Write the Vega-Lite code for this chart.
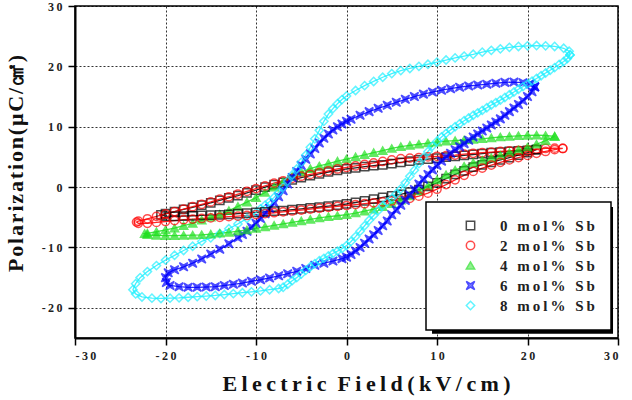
{
  "$schema": "https://vega.github.io/schema/vega-lite/v6.json",
  "width": 543,
  "height": 332,
  "autosize": {"type": "none"},
  "padding": {"left": 75, "top": 6, "right": 14, "bottom": 62},
  "background": "white",
  "config": {
    "view": {"stroke": "#000", "strokeWidth": 1.5},
    "axis": {
      "labelFont": "Liberation Serif", "labelFontWeight": "bold", "labelFontSize": 12, "labelColor": "#222",
      "titleFont": "Liberation Serif", "titleFontWeight": "bold", "titleFontSize": 22, "titleColor": "#111",
      "domainColor": "#000", "domainWidth": 2, "tickColor": "#000", "tickWidth": 1.5, "tickSize": 7,
      "grid": true, "gridColor": "#000", "gridDash": [2, 2], "gridWidth": 1, "gridOpacity": 0.8
    },
    "legend": {
      "orient": "none", "legendX": 351, "legendY": 196,
      "fillColor": "white", "strokeColor": "#000", "strokeWidth": 1.5,
      "padding": 16, "symbolOffset": 21, "labelOffset": 22, "rowPadding": 4,
      "labelFont": "Liberation Serif", "labelFontWeight": "bold", "labelFontSize": 15, "labelColor": "#222",
      "symbolSize": 70, "symbolStrokeWidth": 1.5
    }
  },
  "data": {"values": [
    {"s":"0 mol% Sb","E":21,"P":6.2},{"s":"0 mol% Sb","E":20,"P":6.1},{"s":"0 mol% Sb","E":19,"P":6.0},{"s":"0 mol% Sb","E":18,"P":5.9},{"s":"0 mol% Sb","E":17,"P":5.8},{"s":"0 mol% Sb","E":16,"P":5.7},{"s":"0 mol% Sb","E":15,"P":5.55},{"s":"0 mol% Sb","E":14,"P":5.4},{"s":"0 mol% Sb","E":13,"P":5.25},{"s":"0 mol% Sb","E":12,"P":5.1},{"s":"0 mol% Sb","E":11,"P":4.95},{"s":"0 mol% Sb","E":10,"P":4.8},{"s":"0 mol% Sb","E":9,"P":4.65},{"s":"0 mol% Sb","E":8,"P":4.5},{"s":"0 mol% Sb","E":7,"P":4.3},{"s":"0 mol% Sb","E":6,"P":4.1},{"s":"0 mol% Sb","E":5,"P":3.9},{"s":"0 mol% Sb","E":4,"P":3.7},{"s":"0 mol% Sb","E":3,"P":3.55},{"s":"0 mol% Sb","E":2,"P":3.4},{"s":"0 mol% Sb","E":1,"P":3.2},{"s":"0 mol% Sb","E":0,"P":3.0},{"s":"0 mol% Sb","E":-1,"P":2.75},{"s":"0 mol% Sb","E":-2,"P":2.5},{"s":"0 mol% Sb","E":-3,"P":2.2},{"s":"0 mol% Sb","E":-4,"P":1.9},{"s":"0 mol% Sb","E":-5,"P":1.55},{"s":"0 mol% Sb","E":-6,"P":1.2},{"s":"0 mol% Sb","E":-7,"P":0.8},{"s":"0 mol% Sb","E":-8,"P":0.4},{"s":"0 mol% Sb","E":-9,"P":0.0},{"s":"0 mol% Sb","E":-10,"P":-0.5},{"s":"0 mol% Sb","E":-11,"P":-0.95},{"s":"0 mol% Sb","E":-12,"P":-1.4},{"s":"0 mol% Sb","E":-13,"P":-1.8},{"s":"0 mol% Sb","E":-14,"P":-2.2},{"s":"0 mol% Sb","E":-15,"P":-2.6},{"s":"0 mol% Sb","E":-16,"P":-3.0},{"s":"0 mol% Sb","E":-17,"P":-3.35},{"s":"0 mol% Sb","E":-18,"P":-3.7},{"s":"0 mol% Sb","E":-19,"P":-4.05},{"s":"0 mol% Sb","E":-20,"P":-4.4},{"s":"0 mol% Sb","E":-20.5,"P":-4.6},
    {"s":"0 mol% Sb","E":-20,"P":-4.8},{"s":"0 mol% Sb","E":-19,"P":-4.85},{"s":"0 mol% Sb","E":-18,"P":-4.8},{"s":"0 mol% Sb","E":-17,"P":-4.75},{"s":"0 mol% Sb","E":-16,"P":-4.7},{"s":"0 mol% Sb","E":-15,"P":-4.65},{"s":"0 mol% Sb","E":-14,"P":-4.6},{"s":"0 mol% Sb","E":-13,"P":-4.5},{"s":"0 mol% Sb","E":-12,"P":-4.4},{"s":"0 mol% Sb","E":-11,"P":-4.3},{"s":"0 mol% Sb","E":-10,"P":-4.2},{"s":"0 mol% Sb","E":-9,"P":-4.1},{"s":"0 mol% Sb","E":-8,"P":-4.0},{"s":"0 mol% Sb","E":-7,"P":-3.9},{"s":"0 mol% Sb","E":-6,"P":-3.75},{"s":"0 mol% Sb","E":-5,"P":-3.6},{"s":"0 mol% Sb","E":-4,"P":-3.45},{"s":"0 mol% Sb","E":-3,"P":-3.3},{"s":"0 mol% Sb","E":-2,"P":-3.15},{"s":"0 mol% Sb","E":-1,"P":-3.0},{"s":"0 mol% Sb","E":0,"P":-2.8},{"s":"0 mol% Sb","E":1,"P":-2.55},{"s":"0 mol% Sb","E":2,"P":-2.3},{"s":"0 mol% Sb","E":3,"P":-2.0},{"s":"0 mol% Sb","E":4,"P":-1.7},{"s":"0 mol% Sb","E":5,"P":-1.45},{"s":"0 mol% Sb","E":6,"P":-1.2},{"s":"0 mol% Sb","E":7,"P":-0.85},{"s":"0 mol% Sb","E":8,"P":-0.4},{"s":"0 mol% Sb","E":9,"P":0.1},{"s":"0 mol% Sb","E":10,"P":0.7},{"s":"0 mol% Sb","E":11,"P":1.4},{"s":"0 mol% Sb","E":12,"P":2.1},{"s":"0 mol% Sb","E":13,"P":2.7},{"s":"0 mol% Sb","E":14,"P":3.3},{"s":"0 mol% Sb","E":15,"P":3.7},{"s":"0 mol% Sb","E":16,"P":4.1},{"s":"0 mol% Sb","E":17,"P":4.5},{"s":"0 mol% Sb","E":18,"P":4.9},{"s":"0 mol% Sb","E":19,"P":5.3},{"s":"0 mol% Sb","E":20,"P":5.7},{"s":"0 mol% Sb","E":21,"P":6.2},

    {"s":"2 mol% Sb","E":23.9,"P":6.4},{"s":"2 mol% Sb","E":23,"P":6.45},{"s":"2 mol% Sb","E":22,"P":6.4},{"s":"2 mol% Sb","E":21,"P":6.3},{"s":"2 mol% Sb","E":20,"P":6.2},{"s":"2 mol% Sb","E":19,"P":6.1},{"s":"2 mol% Sb","E":18,"P":6.0},{"s":"2 mol% Sb","E":17,"P":5.9},{"s":"2 mol% Sb","E":16,"P":5.8},{"s":"2 mol% Sb","E":15,"P":5.7},{"s":"2 mol% Sb","E":14,"P":5.6},{"s":"2 mol% Sb","E":13,"P":5.45},{"s":"2 mol% Sb","E":12,"P":5.3},{"s":"2 mol% Sb","E":11,"P":5.2},{"s":"2 mol% Sb","E":10,"P":5.1},{"s":"2 mol% Sb","E":9,"P":5.0},{"s":"2 mol% Sb","E":8,"P":4.9},{"s":"2 mol% Sb","E":7,"P":4.8},{"s":"2 mol% Sb","E":6,"P":4.7},{"s":"2 mol% Sb","E":5,"P":4.5},{"s":"2 mol% Sb","E":4,"P":4.25},{"s":"2 mol% Sb","E":3,"P":4.0},{"s":"2 mol% Sb","E":2,"P":3.75},{"s":"2 mol% Sb","E":1,"P":3.5},{"s":"2 mol% Sb","E":0,"P":3.25},{"s":"2 mol% Sb","E":-1,"P":3.0},{"s":"2 mol% Sb","E":-2,"P":2.7},{"s":"2 mol% Sb","E":-3,"P":2.4},{"s":"2 mol% Sb","E":-4,"P":2.1},{"s":"2 mol% Sb","E":-5,"P":1.8},{"s":"2 mol% Sb","E":-6,"P":1.45},{"s":"2 mol% Sb","E":-7,"P":1.05},{"s":"2 mol% Sb","E":-8,"P":0.65},{"s":"2 mol% Sb","E":-9,"P":0.2},{"s":"2 mol% Sb","E":-10,"P":-0.25},{"s":"2 mol% Sb","E":-11,"P":-0.7},{"s":"2 mol% Sb","E":-12,"P":-1.15},{"s":"2 mol% Sb","E":-13,"P":-1.6},{"s":"2 mol% Sb","E":-14,"P":-2.0},{"s":"2 mol% Sb","E":-15,"P":-2.45},{"s":"2 mol% Sb","E":-16,"P":-2.85},{"s":"2 mol% Sb","E":-17,"P":-3.25},{"s":"2 mol% Sb","E":-18,"P":-3.65},{"s":"2 mol% Sb","E":-19,"P":-4.05},{"s":"2 mol% Sb","E":-20,"P":-4.45},{"s":"2 mol% Sb","E":-21,"P":-4.85},{"s":"2 mol% Sb","E":-22,"P":-5.25},{"s":"2 mol% Sb","E":-23,"P":-5.65},{"s":"2 mol% Sb","E":-23.2,"P":-5.8},
    {"s":"2 mol% Sb","E":-23,"P":-6.0},{"s":"2 mol% Sb","E":-22,"P":-6.0},{"s":"2 mol% Sb","E":-21,"P":-5.85},{"s":"2 mol% Sb","E":-20,"P":-5.7},{"s":"2 mol% Sb","E":-19,"P":-5.55},{"s":"2 mol% Sb","E":-18,"P":-5.4},{"s":"2 mol% Sb","E":-17,"P":-5.3},{"s":"2 mol% Sb","E":-16,"P":-5.2},{"s":"2 mol% Sb","E":-15,"P":-5.1},{"s":"2 mol% Sb","E":-14,"P":-5.0},{"s":"2 mol% Sb","E":-13,"P":-4.9},{"s":"2 mol% Sb","E":-12,"P":-4.8},{"s":"2 mol% Sb","E":-11,"P":-4.7},{"s":"2 mol% Sb","E":-10,"P":-4.55},{"s":"2 mol% Sb","E":-9,"P":-4.4},{"s":"2 mol% Sb","E":-8,"P":-4.25},{"s":"2 mol% Sb","E":-7,"P":-4.1},{"s":"2 mol% Sb","E":-6,"P":-3.95},{"s":"2 mol% Sb","E":-5,"P":-3.8},{"s":"2 mol% Sb","E":-4,"P":-3.65},{"s":"2 mol% Sb","E":-3,"P":-3.5},{"s":"2 mol% Sb","E":-2,"P":-3.35},{"s":"2 mol% Sb","E":-1,"P":-3.2},{"s":"2 mol% Sb","E":0,"P":-3.05},{"s":"2 mol% Sb","E":1,"P":-2.9},{"s":"2 mol% Sb","E":2,"P":-2.75},{"s":"2 mol% Sb","E":3,"P":-2.6},{"s":"2 mol% Sb","E":4,"P":-2.45},{"s":"2 mol% Sb","E":5,"P":-2.3},{"s":"2 mol% Sb","E":6,"P":-2.1},{"s":"2 mol% Sb","E":7,"P":-1.85},{"s":"2 mol% Sb","E":8,"P":-1.5},{"s":"2 mol% Sb","E":9,"P":-1.0},{"s":"2 mol% Sb","E":10,"P":-0.35},{"s":"2 mol% Sb","E":11,"P":0.4},{"s":"2 mol% Sb","E":12,"P":1.2},{"s":"2 mol% Sb","E":13,"P":1.95},{"s":"2 mol% Sb","E":14,"P":2.6},{"s":"2 mol% Sb","E":15,"P":3.15},{"s":"2 mol% Sb","E":16,"P":3.65},{"s":"2 mol% Sb","E":17,"P":4.1},{"s":"2 mol% Sb","E":18,"P":4.5},{"s":"2 mol% Sb","E":19,"P":4.9},{"s":"2 mol% Sb","E":20,"P":5.25},{"s":"2 mol% Sb","E":21,"P":5.6},{"s":"2 mol% Sb","E":22,"P":5.9},{"s":"2 mol% Sb","E":23,"P":6.2},{"s":"2 mol% Sb","E":23.9,"P":6.4},

    {"s":"4 mol% Sb","E":23,"P":8.4},{"s":"4 mol% Sb","E":22,"P":8.55},{"s":"4 mol% Sb","E":21,"P":8.6},{"s":"4 mol% Sb","E":20,"P":8.55},{"s":"4 mol% Sb","E":19,"P":8.5},{"s":"4 mol% Sb","E":18,"P":8.4},{"s":"4 mol% Sb","E":17,"P":8.3},{"s":"4 mol% Sb","E":16,"P":8.15},{"s":"4 mol% Sb","E":15,"P":8.0},{"s":"4 mol% Sb","E":14,"P":7.9},{"s":"4 mol% Sb","E":13,"P":7.8},{"s":"4 mol% Sb","E":12,"P":7.7},{"s":"4 mol% Sb","E":11,"P":7.6},{"s":"4 mol% Sb","E":10,"P":7.45},{"s":"4 mol% Sb","E":9,"P":7.3},{"s":"4 mol% Sb","E":8,"P":7.1},{"s":"4 mol% Sb","E":7,"P":6.9},{"s":"4 mol% Sb","E":6,"P":6.7},{"s":"4 mol% Sb","E":5,"P":6.4},{"s":"4 mol% Sb","E":4,"P":6.05},{"s":"4 mol% Sb","E":3,"P":5.7},{"s":"4 mol% Sb","E":2,"P":5.35},{"s":"4 mol% Sb","E":1,"P":5.0},{"s":"4 mol% Sb","E":0,"P":4.65},{"s":"4 mol% Sb","E":-1,"P":4.3},{"s":"4 mol% Sb","E":-2,"P":3.9},{"s":"4 mol% Sb","E":-3,"P":3.5},{"s":"4 mol% Sb","E":-4,"P":3.05},{"s":"4 mol% Sb","E":-5,"P":2.5},{"s":"4 mol% Sb","E":-6,"P":1.75},{"s":"4 mol% Sb","E":-7,"P":0.9},{"s":"4 mol% Sb","E":-8,"P":0.0},{"s":"4 mol% Sb","E":-9,"P":-0.9},{"s":"4 mol% Sb","E":-10,"P":-1.75},{"s":"4 mol% Sb","E":-11,"P":-2.5},{"s":"4 mol% Sb","E":-12,"P":-3.2},{"s":"4 mol% Sb","E":-13,"P":-3.9},{"s":"4 mol% Sb","E":-14,"P":-4.5},{"s":"4 mol% Sb","E":-15,"P":-5.0},{"s":"4 mol% Sb","E":-16,"P":-5.5},{"s":"4 mol% Sb","E":-17,"P":-6.0},{"s":"4 mol% Sb","E":-18,"P":-6.4},{"s":"4 mol% Sb","E":-19,"P":-6.8},{"s":"4 mol% Sb","E":-20,"P":-7.1},{"s":"4 mol% Sb","E":-21,"P":-7.4},{"s":"4 mol% Sb","E":-22,"P":-7.65},{"s":"4 mol% Sb","E":-22.3,"P":-7.7},
    {"s":"4 mol% Sb","E":-22,"P":-7.9},{"s":"4 mol% Sb","E":-21,"P":-8.0},{"s":"4 mol% Sb","E":-20,"P":-8.05},{"s":"4 mol% Sb","E":-19,"P":-8.05},{"s":"4 mol% Sb","E":-18,"P":-8.0},{"s":"4 mol% Sb","E":-17,"P":-7.95},{"s":"4 mol% Sb","E":-16,"P":-7.9},{"s":"4 mol% Sb","E":-15,"P":-7.8},{"s":"4 mol% Sb","E":-14,"P":-7.65},{"s":"4 mol% Sb","E":-13,"P":-7.5},{"s":"4 mol% Sb","E":-12,"P":-7.3},{"s":"4 mol% Sb","E":-11,"P":-7.1},{"s":"4 mol% Sb","E":-10,"P":-6.85},{"s":"4 mol% Sb","E":-9,"P":-6.6},{"s":"4 mol% Sb","E":-8,"P":-6.35},{"s":"4 mol% Sb","E":-7,"P":-6.1},{"s":"4 mol% Sb","E":-6,"P":-5.85},{"s":"4 mol% Sb","E":-5,"P":-5.6},{"s":"4 mol% Sb","E":-4,"P":-5.35},{"s":"4 mol% Sb","E":-3,"P":-5.1},{"s":"4 mol% Sb","E":-2,"P":-4.9},{"s":"4 mol% Sb","E":-1,"P":-4.75},{"s":"4 mol% Sb","E":0,"P":-4.55},{"s":"4 mol% Sb","E":1,"P":-4.3},{"s":"4 mol% Sb","E":2,"P":-4.0},{"s":"4 mol% Sb","E":3,"P":-3.65},{"s":"4 mol% Sb","E":4,"P":-3.25},{"s":"4 mol% Sb","E":5,"P":-2.75},{"s":"4 mol% Sb","E":6,"P":-2.15},{"s":"4 mol% Sb","E":7,"P":-1.45},{"s":"4 mol% Sb","E":8,"P":-0.65},{"s":"4 mol% Sb","E":9,"P":0.25},{"s":"4 mol% Sb","E":10,"P":1.2},{"s":"4 mol% Sb","E":11,"P":2.05},{"s":"4 mol% Sb","E":12,"P":2.8},{"s":"4 mol% Sb","E":13,"P":3.45},{"s":"4 mol% Sb","E":14,"P":4.0},{"s":"4 mol% Sb","E":15,"P":4.45},{"s":"4 mol% Sb","E":16,"P":4.85},{"s":"4 mol% Sb","E":17,"P":5.25},{"s":"4 mol% Sb","E":18,"P":5.7},{"s":"4 mol% Sb","E":19,"P":6.15},{"s":"4 mol% Sb","E":20,"P":6.6},{"s":"4 mol% Sb","E":21,"P":7.1},{"s":"4 mol% Sb","E":22,"P":7.7},{"s":"4 mol% Sb","E":23,"P":8.4},

    {"s":"6 mol% Sb","E":20.8,"P":16.6},{"s":"6 mol% Sb","E":20.3,"P":17.1},{"s":"6 mol% Sb","E":19.5,"P":17.3},{"s":"6 mol% Sb","E":18.5,"P":17.4},{"s":"6 mol% Sb","E":17.5,"P":17.35},{"s":"6 mol% Sb","E":16.5,"P":17.2},{"s":"6 mol% Sb","E":15.5,"P":17.05},{"s":"6 mol% Sb","E":14.5,"P":16.9},{"s":"6 mol% Sb","E":13.5,"P":16.75},{"s":"6 mol% Sb","E":12.5,"P":16.55},{"s":"6 mol% Sb","E":11.5,"P":16.3},{"s":"6 mol% Sb","E":10.5,"P":16.05},{"s":"6 mol% Sb","E":9.5,"P":15.75},{"s":"6 mol% Sb","E":8.5,"P":15.4},{"s":"6 mol% Sb","E":7.5,"P":15.0},{"s":"6 mol% Sb","E":6.5,"P":14.55},{"s":"6 mol% Sb","E":5.5,"P":14.05},{"s":"6 mol% Sb","E":4.5,"P":13.55},{"s":"6 mol% Sb","E":3.5,"P":13.05},{"s":"6 mol% Sb","E":2.5,"P":12.5},{"s":"6 mol% Sb","E":1.5,"P":11.9},{"s":"6 mol% Sb","E":0.5,"P":11.25},{"s":"6 mol% Sb","E":0,"P":10.9},{"s":"6 mol% Sb","E":-0.5,"P":10.45},{"s":"6 mol% Sb","E":-1,"P":10.0},{"s":"6 mol% Sb","E":-1.5,"P":9.45},{"s":"6 mol% Sb","E":-2,"P":8.8},{"s":"6 mol% Sb","E":-2.5,"P":8.1},{"s":"6 mol% Sb","E":-3,"P":7.3},{"s":"6 mol% Sb","E":-3.5,"P":6.4},{"s":"6 mol% Sb","E":-4,"P":5.5},{"s":"6 mol% Sb","E":-4.5,"P":4.6},{"s":"6 mol% Sb","E":-5,"P":3.6},{"s":"6 mol% Sb","E":-5.5,"P":2.6},{"s":"6 mol% Sb","E":-6,"P":1.6},{"s":"6 mol% Sb","E":-6.5,"P":0.5},{"s":"6 mol% Sb","E":-7,"P":-0.6},{"s":"6 mol% Sb","E":-7.5,"P":-1.6},{"s":"6 mol% Sb","E":-8,"P":-2.6},{"s":"6 mol% Sb","E":-8.5,"P":-3.5},{"s":"6 mol% Sb","E":-9,"P":-4.4},{"s":"6 mol% Sb","E":-9.5,"P":-5.2},{"s":"6 mol% Sb","E":-10,"P":-6.0},{"s":"6 mol% Sb","E":-10.5,"P":-6.65},{"s":"6 mol% Sb","E":-11,"P":-7.3},{"s":"6 mol% Sb","E":-11.5,"P":-7.85},{"s":"6 mol% Sb","E":-12,"P":-8.4},{"s":"6 mol% Sb","E":-13,"P":-9.4},{"s":"6 mol% Sb","E":-14,"P":-10.3},{"s":"6 mol% Sb","E":-15,"P":-11.1},{"s":"6 mol% Sb","E":-16,"P":-11.9},{"s":"6 mol% Sb","E":-17,"P":-12.6},{"s":"6 mol% Sb","E":-18,"P":-13.2},{"s":"6 mol% Sb","E":-19,"P":-13.7},{"s":"6 mol% Sb","E":-19.7,"P":-14.2},{"s":"6 mol% Sb","E":-20,"P":-15.0},{"s":"6 mol% Sb","E":-19.9,"P":-15.8},
    {"s":"6 mol% Sb","E":-19.5,"P":-16.3},{"s":"6 mol% Sb","E":-18.5,"P":-16.5},{"s":"6 mol% Sb","E":-17.5,"P":-16.6},{"s":"6 mol% Sb","E":-16.5,"P":-16.6},{"s":"6 mol% Sb","E":-15.5,"P":-16.55},{"s":"6 mol% Sb","E":-14.5,"P":-16.5},{"s":"6 mol% Sb","E":-13.5,"P":-16.3},{"s":"6 mol% Sb","E":-12.5,"P":-16.1},{"s":"6 mol% Sb","E":-11.5,"P":-15.9},{"s":"6 mol% Sb","E":-10.5,"P":-15.6},{"s":"6 mol% Sb","E":-9.5,"P":-15.35},{"s":"6 mol% Sb","E":-8.5,"P":-15.05},{"s":"6 mol% Sb","E":-7.5,"P":-14.7},{"s":"6 mol% Sb","E":-6.5,"P":-14.35},{"s":"6 mol% Sb","E":-5.5,"P":-13.95},{"s":"6 mol% Sb","E":-4.5,"P":-13.5},{"s":"6 mol% Sb","E":-3.5,"P":-12.95},{"s":"6 mol% Sb","E":-2.5,"P":-12.6},{"s":"6 mol% Sb","E":-1.5,"P":-12.25},{"s":"6 mol% Sb","E":-0.5,"P":-11.85},{"s":"6 mol% Sb","E":0,"P":-11.6},{"s":"6 mol% Sb","E":0.5,"P":-11.15},{"s":"6 mol% Sb","E":1,"P":-10.6},{"s":"6 mol% Sb","E":1.5,"P":-10.0},{"s":"6 mol% Sb","E":2,"P":-9.3},{"s":"6 mol% Sb","E":2.5,"P":-8.6},{"s":"6 mol% Sb","E":3,"P":-7.9},{"s":"6 mol% Sb","E":3.5,"P":-7.2},{"s":"6 mol% Sb","E":4,"P":-6.4},{"s":"6 mol% Sb","E":4.5,"P":-5.6},{"s":"6 mol% Sb","E":5,"P":-4.6},{"s":"6 mol% Sb","E":5.5,"P":-3.8},{"s":"6 mol% Sb","E":6,"P":-3.0},{"s":"6 mol% Sb","E":6.5,"P":-2.2},{"s":"6 mol% Sb","E":7,"P":-1.3},{"s":"6 mol% Sb","E":7.5,"P":-0.4},{"s":"6 mol% Sb","E":8,"P":0.5},{"s":"6 mol% Sb","E":8.5,"P":1.3},{"s":"6 mol% Sb","E":9,"P":2.1},{"s":"6 mol% Sb","E":9.5,"P":2.85},{"s":"6 mol% Sb","E":10,"P":3.6},{"s":"6 mol% Sb","E":10.5,"P":4.3},{"s":"6 mol% Sb","E":11,"P":5.0},{"s":"6 mol% Sb","E":11.5,"P":5.6},{"s":"6 mol% Sb","E":12,"P":6.2},{"s":"6 mol% Sb","E":12.5,"P":6.7},{"s":"6 mol% Sb","E":13,"P":7.2},{"s":"6 mol% Sb","E":13.5,"P":7.75},{"s":"6 mol% Sb","E":14,"P":8.3},{"s":"6 mol% Sb","E":14.5,"P":8.8},{"s":"6 mol% Sb","E":15,"P":9.3},{"s":"6 mol% Sb","E":15.5,"P":9.8},{"s":"6 mol% Sb","E":16,"P":10.3},{"s":"6 mol% Sb","E":16.5,"P":10.8},{"s":"6 mol% Sb","E":17,"P":11.3},{"s":"6 mol% Sb","E":17.5,"P":11.9},{"s":"6 mol% Sb","E":18,"P":12.5},{"s":"6 mol% Sb","E":18.5,"P":13.1},{"s":"6 mol% Sb","E":19,"P":13.7},{"s":"6 mol% Sb","E":19.5,"P":14.3},{"s":"6 mol% Sb","E":20,"P":15.0},{"s":"6 mol% Sb","E":20.5,"P":15.8},{"s":"6 mol% Sb","E":20.8,"P":16.6},

    {"s":"8 mol% Sb","E":24.7,"P":21.9},{"s":"8 mol% Sb","E":24.6,"P":22.5},{"s":"8 mol% Sb","E":24,"P":23.0},{"s":"8 mol% Sb","E":23,"P":23.3},{"s":"8 mol% Sb","E":22,"P":23.4},{"s":"8 mol% Sb","E":21,"P":23.45},{"s":"8 mol% Sb","E":20,"P":23.4},{"s":"8 mol% Sb","E":19,"P":23.3},{"s":"8 mol% Sb","E":18,"P":23.15},{"s":"8 mol% Sb","E":17,"P":22.9},{"s":"8 mol% Sb","E":16,"P":22.65},{"s":"8 mol% Sb","E":15,"P":22.35},{"s":"8 mol% Sb","E":14,"P":22.0},{"s":"8 mol% Sb","E":13,"P":21.7},{"s":"8 mol% Sb","E":12,"P":21.4},{"s":"8 mol% Sb","E":11,"P":21.05},{"s":"8 mol% Sb","E":10,"P":20.7},{"s":"8 mol% Sb","E":9,"P":20.35},{"s":"8 mol% Sb","E":8,"P":20.0},{"s":"8 mol% Sb","E":7,"P":19.65},{"s":"8 mol% Sb","E":6,"P":19.3},{"s":"8 mol% Sb","E":5,"P":18.8},{"s":"8 mol% Sb","E":4,"P":18.2},{"s":"8 mol% Sb","E":3,"P":17.5},{"s":"8 mol% Sb","E":2,"P":16.8},{"s":"8 mol% Sb","E":1,"P":16.0},{"s":"8 mol% Sb","E":0,"P":15.1},{"s":"8 mol% Sb","E":-0.5,"P":14.5},{"s":"8 mol% Sb","E":-1,"P":13.8},{"s":"8 mol% Sb","E":-1.5,"P":13.0},{"s":"8 mol% Sb","E":-2,"P":12.1},{"s":"8 mol% Sb","E":-2.5,"P":10.9},{"s":"8 mol% Sb","E":-3,"P":9.4},{"s":"8 mol% Sb","E":-3.5,"P":8.0},{"s":"8 mol% Sb","E":-4,"P":6.6},{"s":"8 mol% Sb","E":-4.5,"P":5.3},{"s":"8 mol% Sb","E":-5,"P":4.1},{"s":"8 mol% Sb","E":-5.5,"P":3.0},{"s":"8 mol% Sb","E":-6,"P":2.0},{"s":"8 mol% Sb","E":-6.5,"P":1.0},{"s":"8 mol% Sb","E":-7,"P":0.0},{"s":"8 mol% Sb","E":-7.5,"P":-0.9},{"s":"8 mol% Sb","E":-8,"P":-1.7},{"s":"8 mol% Sb","E":-8.5,"P":-2.4},{"s":"8 mol% Sb","E":-9,"P":-3.0},{"s":"8 mol% Sb","E":-9.5,"P":-3.6},{"s":"8 mol% Sb","E":-10,"P":-4.2},{"s":"8 mol% Sb","E":-11,"P":-5.2},{"s":"8 mol% Sb","E":-12,"P":-6.1},{"s":"8 mol% Sb","E":-13,"P":-6.9},{"s":"8 mol% Sb","E":-14,"P":-7.7},{"s":"8 mol% Sb","E":-15,"P":-8.4},{"s":"8 mol% Sb","E":-16,"P":-9.0},{"s":"8 mol% Sb","E":-17,"P":-9.8},{"s":"8 mol% Sb","E":-18,"P":-10.5},{"s":"8 mol% Sb","E":-19,"P":-11.3},{"s":"8 mol% Sb","E":-20,"P":-12.1},{"s":"8 mol% Sb","E":-21,"P":-13.0},{"s":"8 mol% Sb","E":-22,"P":-14.0},{"s":"8 mol% Sb","E":-22.8,"P":-15.0},{"s":"8 mol% Sb","E":-23.3,"P":-16.0},{"s":"8 mol% Sb","E":-23.6,"P":-17.0},
    {"s":"8 mol% Sb","E":-23.3,"P":-17.7},{"s":"8 mol% Sb","E":-22.6,"P":-18.2},{"s":"8 mol% Sb","E":-21.5,"P":-18.4},{"s":"8 mol% Sb","E":-20.5,"P":-18.45},{"s":"8 mol% Sb","E":-19.5,"P":-18.4},{"s":"8 mol% Sb","E":-18.5,"P":-18.35},{"s":"8 mol% Sb","E":-17.5,"P":-18.25},{"s":"8 mol% Sb","E":-16.5,"P":-18.15},{"s":"8 mol% Sb","E":-15.5,"P":-18.05},{"s":"8 mol% Sb","E":-14.5,"P":-17.95},{"s":"8 mol% Sb","E":-13.5,"P":-17.8},{"s":"8 mol% Sb","E":-12.5,"P":-17.65},{"s":"8 mol% Sb","E":-11.5,"P":-17.5},{"s":"8 mol% Sb","E":-10.5,"P":-17.35},{"s":"8 mol% Sb","E":-9.5,"P":-17.2},{"s":"8 mol% Sb","E":-8.5,"P":-17.0},{"s":"8 mol% Sb","E":-7.5,"P":-16.8},{"s":"8 mol% Sb","E":-7,"P":-16.6},{"s":"8 mol% Sb","E":-6.5,"P":-16.1},{"s":"8 mol% Sb","E":-6,"P":-15.5},{"s":"8 mol% Sb","E":-5.5,"P":-15.0},{"s":"8 mol% Sb","E":-5,"P":-14.4},{"s":"8 mol% Sb","E":-4.5,"P":-13.8},{"s":"8 mol% Sb","E":-4,"P":-13.2},{"s":"8 mol% Sb","E":-3.5,"P":-12.7},{"s":"8 mol% Sb","E":-3,"P":-12.2},{"s":"8 mol% Sb","E":-2.5,"P":-11.8},{"s":"8 mol% Sb","E":-2,"P":-11.4},{"s":"8 mol% Sb","E":-1.5,"P":-11.0},{"s":"8 mol% Sb","E":-1,"P":-10.6},{"s":"8 mol% Sb","E":-0.5,"P":-10.2},{"s":"8 mol% Sb","E":0,"P":-9.7},{"s":"8 mol% Sb","E":0.5,"P":-9.0},{"s":"8 mol% Sb","E":1,"P":-8.2},{"s":"8 mol% Sb","E":1.5,"P":-7.3},{"s":"8 mol% Sb","E":2,"P":-6.4},{"s":"8 mol% Sb","E":2.5,"P":-5.5},{"s":"8 mol% Sb","E":3,"P":-4.7},{"s":"8 mol% Sb","E":3.5,"P":-3.9},{"s":"8 mol% Sb","E":4,"P":-3.1},{"s":"8 mol% Sb","E":4.5,"P":-2.5},{"s":"8 mol% Sb","E":5,"P":-1.9},{"s":"8 mol% Sb","E":5.5,"P":-1.1},{"s":"8 mol% Sb","E":6,"P":-0.3},{"s":"8 mol% Sb","E":6.5,"P":0.7},{"s":"8 mol% Sb","E":7,"P":1.8},{"s":"8 mol% Sb","E":7.5,"P":2.8},{"s":"8 mol% Sb","E":8,"P":3.9},{"s":"8 mol% Sb","E":8.5,"P":4.9},{"s":"8 mol% Sb","E":9,"P":5.9},{"s":"8 mol% Sb","E":9.5,"P":6.8},{"s":"8 mol% Sb","E":10,"P":7.6},{"s":"8 mol% Sb","E":10.5,"P":8.3},{"s":"8 mol% Sb","E":11,"P":8.9},{"s":"8 mol% Sb","E":11.5,"P":9.45},{"s":"8 mol% Sb","E":12,"P":10.0},{"s":"8 mol% Sb","E":12.5,"P":10.5},{"s":"8 mol% Sb","E":13,"P":11.0},{"s":"8 mol% Sb","E":13.5,"P":11.45},{"s":"8 mol% Sb","E":14,"P":11.9},{"s":"8 mol% Sb","E":14.5,"P":12.3},{"s":"8 mol% Sb","E":15,"P":12.7},{"s":"8 mol% Sb","E":15.5,"P":13.15},{"s":"8 mol% Sb","E":16,"P":13.6},{"s":"8 mol% Sb","E":16.5,"P":14.0},{"s":"8 mol% Sb","E":17,"P":14.4},{"s":"8 mol% Sb","E":17.5,"P":14.85},{"s":"8 mol% Sb","E":18,"P":15.3},{"s":"8 mol% Sb","E":18.5,"P":15.75},{"s":"8 mol% Sb","E":19,"P":16.2},{"s":"8 mol% Sb","E":19.5,"P":16.65},{"s":"8 mol% Sb","E":20,"P":17.1},{"s":"8 mol% Sb","E":20.5,"P":17.55},{"s":"8 mol% Sb","E":21,"P":18.0},{"s":"8 mol% Sb","E":21.5,"P":18.45},{"s":"8 mol% Sb","E":22,"P":18.9},{"s":"8 mol% Sb","E":22.5,"P":19.35},{"s":"8 mol% Sb","E":23,"P":19.8},{"s":"8 mol% Sb","E":23.5,"P":20.3},{"s":"8 mol% Sb","E":24,"P":20.8},{"s":"8 mol% Sb","E":24.4,"P":21.3},{"s":"8 mol% Sb","E":24.7,"P":21.9}
  ]},
  "layer": [
    {
      "transform": [{"window": [{"op": "row_number", "as": "i"}], "groupby": ["s"]}],
      "encoding": {
        "x": {"field": "E", "type": "quantitative", "scale": {"domain": [-30, 30], "nice": false, "zero": false},
          "title": "E\u2009l\u2009e\u2009c\u2009t\u2009r\u2009i\u2009c\u2002F\u2009i\u2009e\u2009l\u2009d\u2009(\u2009k\u2009V\u2009/\u2009c\u2009m\u2009)",
          "axis": {
            "values": [-30, -20, -10, 0, 10, 20, 30],
            "labelExpr": "join(split(datum.value + '', ''), '\u2009')",
            "labelPadding": 5, "labelBaseline": "top",
            "titleX": 291, "titleY": 52, "titleBaseline": "alphabetic", "titleAnchor": "middle"
          }},
        "y": {"field": "P", "type": "quantitative", "scale": {"domain": [-25, 30], "nice": false, "zero": false},
          "title": "P\u200ao\u200al\u200aa\u200ar\u200ai\u200az\u200aa\u200at\u200ai\u200ao\u200an\u200a(\u200aμ\u200aC\u200a/\u200a㎠\u200a)",
          "axis": {
            "values": [-20, -10, 0, 10, 20, 30],
            "labelExpr": "join(split(datum.value + '', ''), '\u2009')",
            "labelPadding": 6,
            "titleX": -60, "titleY": 157, "titleAngle": 270, "titleBaseline": "middle", "titleAlign": "center"
          }},
        "order": {"field": "i", "type": "quantitative"}
      },
      "layer": [
        {"transform": [{"filter": "datum.s === '0 mol% Sb'"}], "mark": {"type": "line", "strokeWidth": 1.3, "color": "#000000", "opacity": 0.85}},
        {"transform": [{"filter": "datum.s === '2 mol% Sb'"}], "mark": {"type": "line", "strokeWidth": 1.3, "color": "#ff0000", "opacity": 0.85}},
        {"transform": [{"filter": "datum.s === '4 mol% Sb'"}], "mark": {"type": "line", "strokeWidth": 1.3, "color": "#22e022", "opacity": 0.85}},
        {"transform": [{"filter": "datum.s === '6 mol% Sb'"}], "mark": {"type": "line", "strokeWidth": 1.3, "color": "#0000ff", "opacity": 0.85}},
        {"transform": [{"filter": "datum.s === '8 mol% Sb'"}], "mark": {"type": "line", "strokeWidth": 1.3, "color": "#20f0ff", "opacity": 0.85}},
        {
          "mark": {"type": "point", "filled": false, "strokeWidth": 1.5, "size": 68},
          "encoding": {
            "stroke": {"field": "s", "type": "nominal", "title": null,
              "scale": {"domain": ["0 mol% Sb", "2 mol% Sb", "4 mol% Sb", "6 mol% Sb", "8 mol% Sb"], "range": ["#000000", "#ff0000", "#22e022", "#0000ff", "#20f0ff"]},
              "legend": {"labelExpr": "join(split(datum.label, ''), '\u2009')"}},
            "fill": {"field": "s", "type": "nominal", "title": null,
              "scale": {"domain": ["0 mol% Sb", "2 mol% Sb", "4 mol% Sb", "6 mol% Sb", "8 mol% Sb"], "range": ["transparent", "transparent", "#22e022", "#0000ff", "transparent"]},
              "legend": {"labelExpr": "join(split(datum.label, ''), '\u2009')"}},
            "shape": {"field": "s", "type": "nominal", "title": null,
              "scale": {"domain": ["0 mol% Sb", "2 mol% Sb", "4 mol% Sb", "6 mol% Sb", "8 mol% Sb"], "range": ["square", "circle", "triangle-up", "M-1,-1L0,-0.4L1,-1L0.4,0L1,1L0,0.4L-1,1L-0.4,0Z", "diamond"]},
              "legend": {"labelExpr": "join(split(datum.label, ''), '\u2009')"}}
          }
        }
      ]
    },
    {
      "data": {"values": [{}]},
      "mark": {"type": "rect", "color": "#000"},
      "encoding": {
        "x": {"datum": 9.45, "type": "quantitative", "title": "E\u2009l\u2009e\u2009c\u2009t\u2009r\u2009i\u2009c\u2002F\u2009i\u2009e\u2009l\u2009d\u2009(\u2009k\u2009V\u2009/\u2009c\u2009m\u2009)"},
        "x2": {"datum": 29.45},
        "y": {"datum": -3.3, "type": "quantitative", "title": "P\u200ao\u200al\u200aa\u200ar\u200ai\u200az\u200aa\u200at\u200ai\u200ao\u200an\u200a(\u200aμ\u200aC\u200a/\u200a㎠\u200a)"},
        "y2": {"datum": -24.3}
      }
    }
  ]
}
